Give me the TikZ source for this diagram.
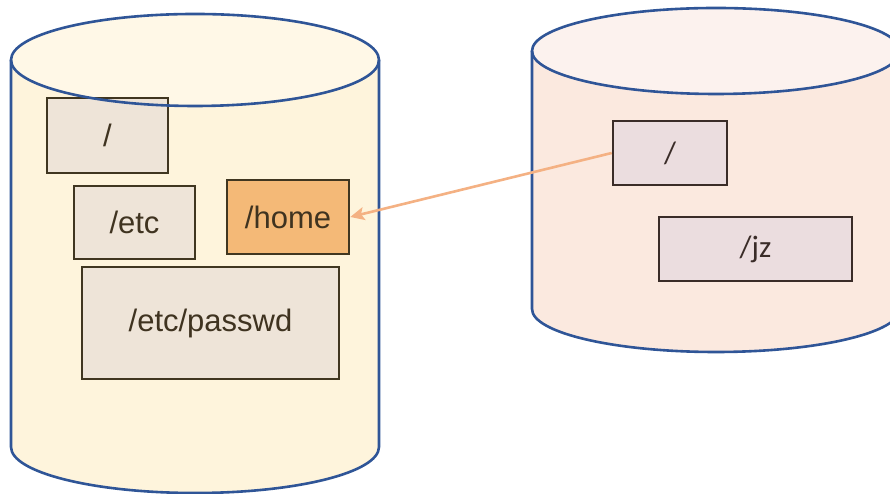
\documentclass[tikz,border=0pt]{standalone}
\usepackage{fontspec}
\setmainfont{Liberation Sans}
\newfontfamily\calfont{Carlito}
\usetikzlibrary{arrows.meta}
\definecolor{bodyL}{HTML}{FEF4DC}
\definecolor{topL}{HTML}{FFF8E7}
\definecolor{bodyR}{HTML}{FBE9DF}
\definecolor{topR}{HTML}{FCF2EE}
\definecolor{cylblue}{HTML}{2F5597}
\definecolor{boxL}{HTML}{EEE4D8}
\definecolor{boxLline}{HTML}{403620}
\definecolor{homefill}{HTML}{F4B977}
\definecolor{boxR}{HTML}{EBDDDF}
\definecolor{boxRline}{HTML}{3A2C28}
\definecolor{arrowc}{HTML}{F4B183}
\definecolor{txtc}{HTML}{3F3320}
\tikzset{
  cylline/.style={draw=cylblue, line width=2.6pt},
  lbox/.style={draw=boxLline, fill=boxL, line width=2.6pt, inner sep=0pt, text=txtc,
    font=\fontsize{31}{36}\selectfont},
  rbox/.style={draw=boxRline, fill=boxR, line width=2.6pt, inner sep=0pt, text=boxRline,
    font=\calfont\fontsize{31}{36}\selectfont},
  link/.style={draw=arrowc, line width=2.6pt, -{Stealth[length=14pt,width=13pt,inset=3pt]}}
}
\begin{document}
\begin{tikzpicture}[x=1pt,y=1pt]
\useasboundingbox (0,0) rectangle (890,494);
\clip (0,0) rectangle (890,494);
\fill[white] (0,0) rectangle (890,494);
% left cylinder fills
\fill[bodyL] (11,434) -- (11,47) arc[start angle=180,end angle=360,x radius=184pt,y radius=46pt] -- (379,434) -- cycle;
\fill[topL] (195,434) ellipse[x radius=184pt, y radius=46pt];
% right cylinder fills
\fill[bodyR] (532,443) -- (532,185) arc[start angle=180,end angle=360,x radius=184pt,y radius=43pt] -- (900,443) -- cycle;
\fill[topR] (716,443) ellipse[x radius=184pt, y radius=43pt];
% boxes
\node[lbox, minimum width=121pt, minimum height=75pt] (rootL) at (107.5,358.5) {/};
\node[lbox, minimum width=121pt, minimum height=73pt] (etc) at (134.5,271.5) {/etc};
\node[lbox, fill=homefill, minimum width=122pt, minimum height=74pt] (home) at (288,277) {/home};
\node[lbox, minimum width=257pt, minimum height=112pt] (passwd) at (210.5,171) {/etc/passwd};
\node[rbox, minimum width=114pt, minimum height=64pt] (rootR) at (670,341) {/};
\node[rbox, minimum width=193pt, minimum height=64pt] (jz) at (755.5,245) {\raisebox{-3pt}{/jz}};
% outlines
\draw[cylline] (11,434) -- (11,47) arc[start angle=180,end angle=360,x radius=184pt,y radius=46pt] -- (379,434);
\draw[cylline] (195,434) ellipse[x radius=184pt, y radius=46pt];
\draw[cylline] (532,443) -- (532,185) arc[start angle=180,end angle=360,x radius=184pt,y radius=43pt] -- (900,443);
\draw[cylline] (716,443) ellipse[x radius=184pt, y radius=43pt];
% arrow
\draw[link] (rootR.west) -- (home.east);
\end{tikzpicture}
\end{document}
